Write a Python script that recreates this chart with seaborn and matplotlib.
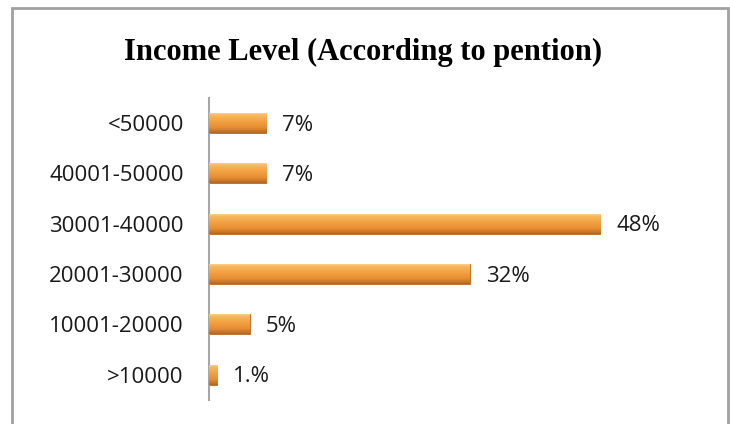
import numpy as np
import pandas as pd
import matplotlib
matplotlib.use("Agg")
import matplotlib.pyplot as plt
from matplotlib.colors import LinearSegmentedColormap
from matplotlib.patches import Rectangle
import seaborn as sns

# Pension income brackets and the share of respondents in each
categories = ["<50000", "40001-50000", "30001-40000", "20001-30000", "10001-20000", ">10000"]
shares = [7, 7, 48, 32, 5, 1]
share_labels = ["7%", "7%", "48%", "32%", "5%", "1.%"]

sns.set_theme(style="white")
plt.rcParams["font.family"] = ["Open Sans", "DejaVu Sans"]

df = pd.DataFrame({"bracket": categories, "share": shares})

fig = plt.figure(figsize=(7.3, 4.24), dpi=100)
ax = fig.add_axes([0.286, 0.057, 0.67, 0.712])

sns.barplot(data=df, x="share", y="bracket", ax=ax, color="#EE9A3C",
            width=0.4, orient="h", saturation=1.0)

# Shade each bar with a vertical gradient (light top edge, deep orange body, darker base)
grad_cmap = LinearSegmentedColormap.from_list(
    "bevel", [(0.0, "#FDD896"), (0.15, "#F8B860"), (0.45, "#F2A142"),
              (0.75, "#E68D32"), (1.0, "#B56823")])
grad = np.linspace(0, 1, 64).reshape(-1, 1)
for patch in list(ax.patches):
    bb = patch.get_bbox()
    img = ax.imshow(grad, cmap=grad_cmap, aspect="auto", origin="upper",
                    extent=(bb.x0, bb.x1, bb.y1, bb.y0), zorder=3)
    img.set_clip_path(patch)
    patch.set_edgecolor("#B8651E")
    patch.set_linewidth(0.6)

ax.set_xlim(0, 60)
ax.set_ylim(len(categories) - 0.5, -0.5)

for i, (v, lab) in enumerate(zip(shares, share_labels)):
    ax.annotate(lab, xy=(v, i), xytext=(11.5, -1.5), textcoords="offset points",
                va="center", ha="left", fontsize=16, color="#1a1a1a")

ax.set_xlabel("")
ax.set_ylabel("")
ax.set_xticks([])
ax.tick_params(axis="y", length=0, labelsize=16, labelcolor="#1a1a1a", pad=18)
for s in ["top", "right", "bottom"]:
    ax.spines[s].set_visible(False)
ax.spines["left"].set_color("#A6A6A6")
ax.spines["left"].set_linewidth(1.5)

fig.text(0.497, 1 - 60 / 424, "Income Level (According to pention)",
         family=["Liberation Serif", "DejaVu Serif"], fontweight="bold",
         fontsize=22, ha="center", va="baseline", color="black")

# Chart-area frame
fig.patches.append(Rectangle((12 / 730, -0.05), 716 / 730, 1.05 - 8 / 424,
                             transform=fig.transFigure, fill=False,
                             edgecolor="#A0A0A0", linewidth=2))

fig.savefig("out.png", dpi=100)
